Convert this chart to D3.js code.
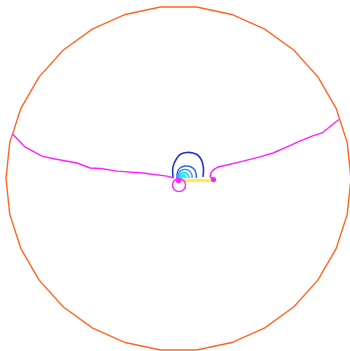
<!DOCTYPE html>
<html><head><meta charset="utf-8">
<script src="https://cdn.jsdelivr.net/npm/d3@7"></script>
<style>html,body{margin:0;padding:0;background:#fff;}svg{display:block;}</style>
</head><body>
<script>
// Boundary polygon vertex angles (degrees)
const boundaryAngles = d3.range(0, 361, 12);
// Separatrix (magenta) curves, data coords in unit disk
const sepLeft = [[-0.962,0.258],[-0.890,0.183],[-0.791,0.130],[-0.716,0.113],[-0.588,0.090],[-0.513,0.061],[-0.450,0.058],[-0.357,0.043],[-0.206,0.032],[-0.165,0.026],[-0.067,0.014],[-0.026,0.003]];
const sepRight = [[0.206,-0.003],[0.183,0.009],[0.188,0.032],[0.200,0.049],[0.229,0.067],[0.281,0.078],[0.374,0.101],[0.472,0.125],[0.548,0.148],[0.646,0.191],[0.693,0.212],[0.774,0.246],[0.832,0.264],[0.890,0.310],[0.930,0.342]];
// Contour levels
const contour1 = [[-0.032,0.009],[-0.032,0.067],[-0.009,0.119],[0.014,0.142],[0.049,0.151],[0.084,0.148],[0.107,0.139],[0.130,0.113],[0.142,0.078],[0.145,0.043],[0.142,0.009]];
const contour2 = [[-0.009,0.003],[-0.006,0.038],[0.009,0.061],[0.038,0.072],[0.067,0.070],[0.090,0.055],[0.101,0.032],[0.104,0.003]];
const contour3 = [[-0.003,0.003],[0.003,0.032],[0.020,0.049],[0.043,0.052],[0.067,0.041],[0.078,0.020],[0.078,0.003]];
const contour4 = [[0.003,0.003],[0.009,0.023],[0.026,0.035],[0.043,0.032],[0.058,0.017],[0.061,0.003]];
const contour5 = [[0.009,0.003],[0.014,0.014],[0.026,0.020],[0.038,0.014],[0.043,0.003]];
const segment = [[0.003,-0.012],[0.188,-0.012]];
const loopCenter = [0.003,-0.038], loopRadius = 0.038;
const fixedPoints = [[0,-0.012],[0.203,-0.006]];

const W = 350, H = 351;
const x = d3.scaleLinear().domain([-1,1]).range([6,351]);
const y = d3.scaleLinear().domain([-1,1]).range([351,6]);
const svg = d3.select("body").append("svg").attr("width",W).attr("height",H);
const line = d3.line().x(d=>x(d[0])).y(d=>y(d[1]));

svg.append("path").datum(boundaryAngles.map(a=>[Math.cos(a*Math.PI/180),Math.sin(a*Math.PI/180)]))
  .attr("d",line).attr("fill","none").attr("stroke","#ff6622").attr("stroke-width",1.4);

const magenta = "#ff22ff";
[sepLeft, sepRight].forEach(c=>svg.append("path").datum(c).attr("d",line.curve(d3.curveLinear))
  .attr("fill","none").attr("stroke",magenta).attr("stroke-width",1.4));

svg.append("path").datum(segment).attr("d",line).attr("stroke","#ffee44").attr("stroke-width",3).attr("fill","none");

const smooth = d3.line().x(d=>x(d[0])).y(d=>y(d[1])).curve(d3.curveCatmullRom);
const levels = [[contour1,"#2233cc",1.6],[contour2,"#2f66e8",1.5],[contour3,"#3399ff",1.5],[contour4,"#22ccff",1.5],[contour5,"#00ffff",2]];
levels.forEach(([c,col,w])=>svg.append("path").datum(c).attr("d",smooth)
  .attr("fill", c===contour5 ? "#00ffff" : "none").attr("stroke",col).attr("stroke-width",w));

svg.append("circle").attr("cx",x(loopCenter[0])).attr("cy",y(loopCenter[1]))
  .attr("r",x(loopRadius)-x(0)).attr("fill","none").attr("stroke",magenta).attr("stroke-width",1.4);

svg.selectAll("circle.fp").data(fixedPoints).enter().append("circle").attr("class","fp")
  .attr("cx",d=>x(d[0])).attr("cy",d=>y(d[1])).attr("r",2.6).attr("fill",magenta);
</script>
</body></html>
